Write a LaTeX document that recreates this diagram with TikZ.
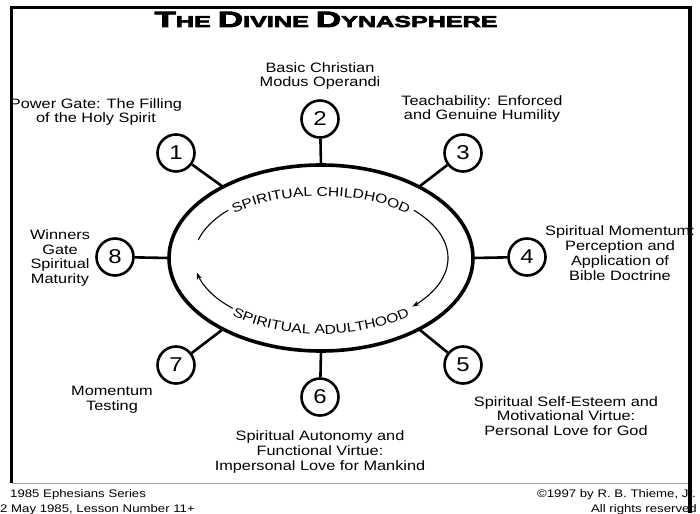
\documentclass[tikz,border=0pt]{standalone}
\usepackage{fontspec}
\usepackage{graphicx}
\setmainfont{Liberation Sans}[FakeStretch=1.2]
\newfontfamily\titlefont{Liberation Sans Bold}[FakeBold=4,FakeStretch=1.25]
\usetikzlibrary{shapes.geometric,arrows.meta,decorations.text}
\begin{document}
\begin{tikzpicture}[x=1pt,y=-1pt,
  num/.style={circle,draw,line width=2.6pt,minimum size=37pt,inner sep=0pt,fill=white,font=\fontsize{20}{20}\selectfont},
  lbl/.style={align=center,font=\fontsize{13.6}{14.8}\selectfont,inner sep=0pt},
  spoke/.style={line width=2.6pt},
  loop/.style={line width=1.1pt},
  foot/.style={font=\fontsize{11}{11}\selectfont,inner sep=0pt}]
\path[use as bounding box] (0,0) rectangle (700,513);
% frame
\draw[line width=3pt] (10,7.5) -- (690,7.5);
\draw[line width=3pt] (11.5,6) -- (11.5,483);
\draw[gray!70,line width=1pt] (12,483.5) -- (690,483.5);
% title
\node[anchor=base,inner sep=0pt] (title) at (326,27) {\scalebox{1.34}[1.05]{\titlefont\fontsize{21}{21}\selectfont T\fontsize{15}{15}\selectfont HE \fontsize{21}{21}\selectfont D\fontsize{15}{15}\selectfont IVINE \fontsize{21}{21}\selectfont D\fontsize{15}{15}\selectfont YNASPHERE}};
% ellipse
\node[ellipse,draw,line width=3.6pt,minimum width=304pt,minimum height=186pt,inner sep=0pt,outer sep=0pt] (E) at (321,258) {};
% circles
\node[num] (n1) at (176,153) {1};
\node[num] (n2) at (320,119) {2};
\node[num] (n3) at (463,153) {3};
\node[num] (n4) at (527,257) {4};
\node[num] (n5) at (463,365) {5};
\node[num] (n6) at (320,397) {6};
\node[num] (n7) at (176,365) {7};
\node[num] (n8) at (115,257) {8};
% spokes
\draw[spoke] (n1) -- (E.144);
\draw[spoke] (n2) -- (E.90);
\draw[spoke] (n3) -- (E.36);
\draw[spoke] (n4) -- (E.0);
\draw[spoke] (n5) -- (E.-36);
\draw[spoke] (n6) -- (E.-90);
\draw[spoke] (n7) -- (E.-144);
\draw[spoke] (n8) -- (E.180);
% inner text
\path[decorate,decoration={text along path,text align=center,text={|\fontsize{13}{13}\selectfont|SPIRITUAL CHILDHOOD}}]
  plot[domain=160:20,samples=80] ({321+124*cos(\x)},{258-62*sin(\x)});
\path[decorate,decoration={text along path,text align=center,text={|\fontsize{13}{13}\selectfont|SPIRITUAL ADULTHOOD}}]
  plot[domain=200:340,samples=80] ({321+136*cos(\x)},{258-76*sin(\x)});
% inner arrows
\draw[loop,-{Stealth[length=7pt,width=5pt]}] plot[domain=43:-44,samples=40] ({321+127*cos(\x)},{258-70*sin(\x)});
\draw[loop] plot[domain=165:137,samples=20] ({321+127*cos(\x)},{258-70*sin(\x)});
\draw[loop,-{Stealth[length=7pt,width=5pt]}] plot[domain=226:192,samples=20] ({321+127*cos(\x)},{258-70*sin(\x)});
% labels
\node[lbl] (l1) at (96,112) {Power Gate: The Filling\\of the Holy Spirit};
\node[lbl] (l2) at (320,76) {Basic Christian\\Modus Operandi};
\node[lbl] (l3) at (482,109) {Teachability: Enforced\\and Genuine Humility};
\node[lbl] (l4) at (620,253) {Spiritual Momentum:\\Perception and\\Application of\\Bible Doctrine};
\node[lbl] (l5) at (566,416) {Spiritual Self-Esteem and\\Motivational Virtue:\\Personal Love for God};
\node[lbl] (l6) at (320,452) {Spiritual Autonomy and\\Functional Virtue:\\Impersonal Love for Mankind};
\node[lbl] (l7) at (112,400) {Momentum\\Testing};
\node[lbl] (l8) at (60,258) {Winners\\Gate\\Spiritual\\Maturity};
% footer
\node[foot,anchor=base west] (f1) at (10,497) {1985 Ephesians Series};
\node[foot,anchor=base west] (f2) at (0,512) {2 May 1985, Lesson Number 11+};
\node[foot,anchor=base east] (f3) at (696,497) {©1997 by R. B. Thieme, Jr.};
\node[foot,anchor=base east] (f4) at (697,512) {All rights reserved};
% right edge
\fill (688,6) rectangle (692,513);
\end{tikzpicture}
\end{document}
